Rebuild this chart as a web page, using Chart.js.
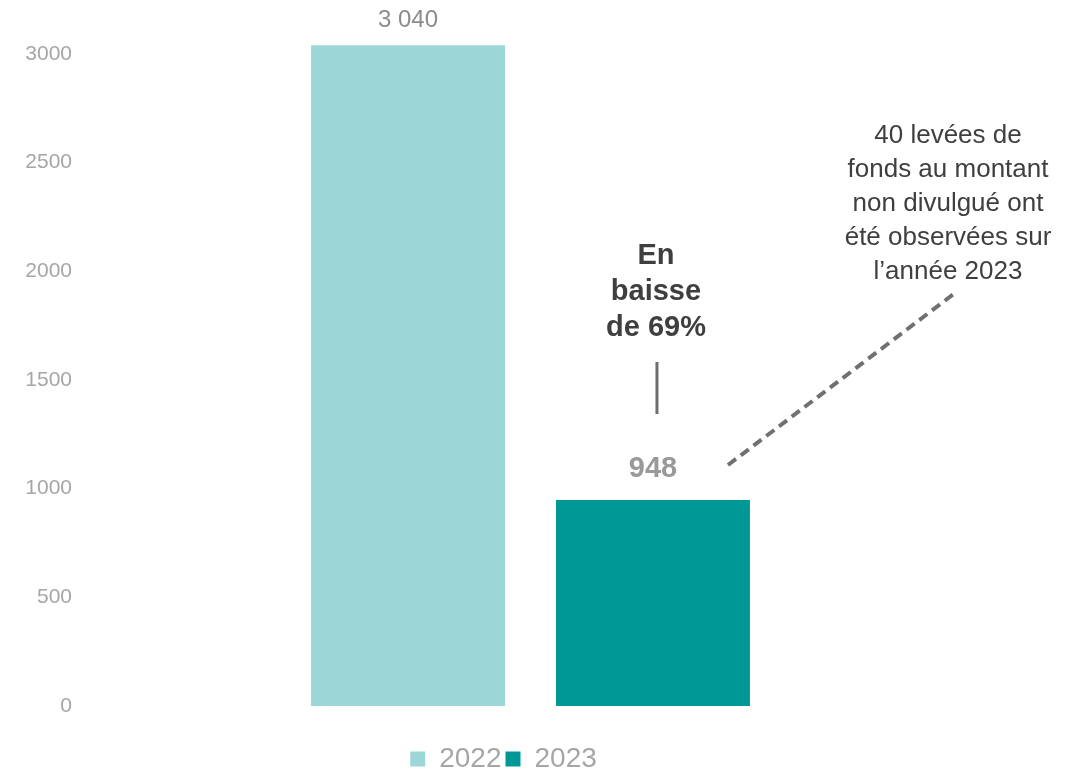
<!DOCTYPE html>
<html>
<head>
<meta charset="utf-8">
<script src="https://cdn.jsdelivr.net/npm/chart.js@4"></script>
<style>
  html, body { margin: 0; padding: 0; background: #fff; }
  #wrap { width: 1084px; height: 771px; }
</style>
</head>
<body>
<div id="wrap"><canvas id="myChart"></canvas></div>
<script>
// data
const categories = [''];
const seriesNames = ['2022', '2023'];
const values2022 = [3040];
const values2023 = [948];
const valueLabels = ['3 040', '948'];
const yTicks = [0, 500, 1000, 1500, 2000, 2500, 3000];
const dropText = ['En', 'baisse', 'de 69%'];
const noteText = ['40 levées de', 'fonds au montant', 'non divulgué ont', 'été observées sur', 'l’année 2023'];

const FONT = '"Liberation Sans", Arial, sans-serif';

// draws the labels, the callout lines and the note
const annotations = {
    id: 'annotations',
    afterLayout(chart) {
        // legend sits a bit right of the plot centre in the original
        chart.legend.left += 18;
        chart.legend.right += 18;
    },
    afterDatasetsDraw(chart) {
        const c = chart.ctx;
        const y = chart.scales.y;
        const bar1 = chart.getDatasetMeta(0).data[0];
        const bar2 = chart.getDatasetMeta(1).data[0];
        c.save();
        c.textAlign = 'center';
        c.textBaseline = 'middle';

        // value above 2022 bar
        c.fillStyle = '#8c8c8c';
        c.font = '24px ' + FONT;
        c.fillText(valueLabels[0], bar1.x, y.getPixelForValue(values2022[0]) - 25);

        // value above 2023 bar
        c.fillStyle = '#999999';
        c.font = 'bold 29px ' + FONT;
        c.fillText(valueLabels[1], bar2.x, y.getPixelForValue(values2023[0]) - 31);

        // drop text
        c.fillStyle = '#3f3f3f';
        c.font = 'bold 29px ' + FONT;
        dropText.forEach((t, i) => c.fillText(t, bar2.x + 3, 256 + i * 36));

        // vertical tick
        c.strokeStyle = '#6e6e6e';
        c.lineWidth = 3;
        c.beginPath();
        c.moveTo(bar2.x + 4, 362);
        c.lineTo(bar2.x + 4, 414);
        c.stroke();

        // dashed connector
        c.strokeStyle = '#707070';
        c.lineWidth = 4;
        c.setLineDash([10, 6]);
        c.beginPath();
        c.moveTo(728, 465);
        c.lineTo(955, 293);
        c.stroke();
        c.setLineDash([]);

        // note
        c.fillStyle = '#3f3f3f';
        c.font = '26px ' + FONT;
        noteText.forEach((t, i) => c.fillText(t, 948, 136 + i * 34));
        c.restore();
    }
};

const ctx = document.getElementById('myChart').getContext('2d');
const myChart = new Chart(ctx, {
    type: 'bar',
    data: {
        labels: categories,
        datasets: [{
            label: seriesNames[0],
            data: values2022,
            backgroundColor: '#9cd6d6',
            categoryPercentage: 0.556,
            barPercentage: 0.792,
            clip: false
        }, {
            label: seriesNames[1],
            data: values2023,
            backgroundColor: '#009797',
            categoryPercentage: 0.556,
            barPercentage: 0.792,
            clip: false
        }]
    },
    options: {
        responsive: true,
        maintainAspectRatio: false,
        animation: false,
        layout: {
            padding: { left: 0, right: 113, top: 54, bottom: -12 }
        },
        plugins: {
            legend: {
                position: 'bottom',
                labels: {
                    color: '#a6a6a6',
                    font: { family: FONT, size: 28 },
                    boxWidth: 15,
                    boxHeight: 15,
                    padding: 4
                }
            },
            tooltip: { enabled: false }
        },
        scales: {
            x: {
                afterFit: (s) => { s.height = 35; },
                grid: { display: false },
                border: { display: false },
                ticks: { display: false }
            },
            y: {
                min: 0,
                max: 3000,
                afterFit: (s) => { s.width = 90; },
                afterBuildTicks: (s) => { s.ticks = yTicks.map(v => ({ value: v })); },
                grid: { display: false },
                border: { display: false },
                ticks: {
                    color: '#a6a6a6',
                    padding: 10,
                    font: { family: FONT, size: 21 },
                    callback: (v) => String(v)
                }
            }
        }
    },
    plugins: [annotations]
});
</script>
</body>
</html>
